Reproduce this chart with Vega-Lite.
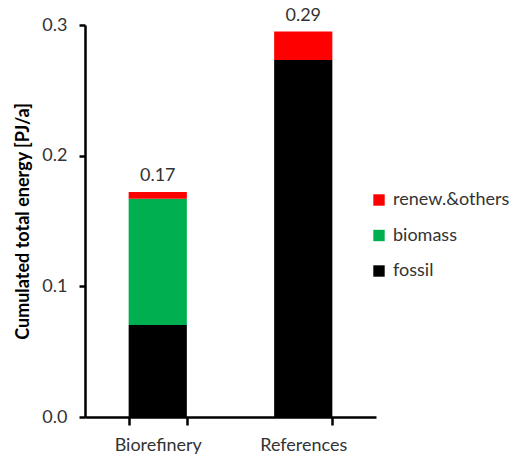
{
  "$schema": "https://vega.github.io/schema/vega-lite/v6.json",
  "width": 291,
  "height": 392,
  "autosize": {"type": "none"},
  "padding": {"left": 85, "top": 25, "right": 144, "bottom": 47},
  "config": {
    "view": {"stroke": null},
    "font": "Lato",
    "axis": {"domainColor": "#000000", "domainWidth": 2.5, "tickColor": "#000000", "tickWidth": 2.5, "grid": false, "labelFont": "Lato", "labelFontSize": 18, "labelColor": "#333333"}
  },
  "layer": [
    {
      "data": {"values": [
        {"case": "Biorefinery", "source": "fossil", "rank": 1, "value": 0.0704},
        {"case": "Biorefinery", "source": "biomass", "rank": 2, "value": 0.0966},
        {"case": "Biorefinery", "source": "renew.&others", "rank": 3, "value": 0.0052},
        {"case": "References", "source": "fossil", "rank": 1, "value": 0.2732},
        {"case": "References", "source": "biomass", "rank": 2, "value": 0.0},
        {"case": "References", "source": "renew.&others", "rank": 3, "value": 0.0218}
      ]},
      "mark": {"type": "bar"},
      "encoding": {
        "x": {"field": "case", "type": "nominal", "sort": null,
          "scale": {"paddingInner": 0.6, "paddingOuter": 0.3},
          "axis": {"title": null, "labelAngle": 0, "tickBand": "extent", "tickSize": 8, "labelPadding": 11, "domainWidth": 2.5}},
        "y": {"field": "value", "type": "quantitative", "stack": "zero",
          "scale": {"domain": [0, 0.3], "nice": false},
          "axis": {"title": "Cumulated total energy [PJ/a]", "titleFont": "Lato", "titleFontSize": 18, "titleFontWeight": "bold", "titleColor": "#000000", "titlePadding": 9, "values": [0, 0.1, 0.2, 0.3], "format": ".1f", "tickSize": 6, "labelPadding": 12}},
        "color": {"field": "source", "type": "nominal",
          "scale": {"domain": ["renew.&others", "biomass", "fossil"], "range": ["#FF0000", "#00B050", "#000000"]},
          "legend": {"title": null, "orient": "none", "legendX": 285, "legendY": 166, "padding": 0, "symbolType": "square", "symbolSize": 130, "symbolStrokeWidth": 0, "labelFont": "Lato", "labelFontSize": 18, "labelColor": "#333333", "rowPadding": 17.5, "labelOffset": 5}},
        "order": {"field": "rank", "type": "quantitative"}
      }
    },
    {
      "data": {"values": [
        {"case": "Biorefinery", "total": 0.172, "label": "0.17"},
        {"case": "References", "total": 0.295, "label": "0.29"}
      ]},
      "mark": {"type": "text", "baseline": "bottom", "dy": -7, "fontSize": 18, "font": "Lato", "color": "#333333"},
      "encoding": {
        "x": {"field": "case", "type": "nominal", "sort": null},
        "y": {"field": "total", "type": "quantitative"},
        "text": {"field": "label"}
      }
    }
  ]
}
